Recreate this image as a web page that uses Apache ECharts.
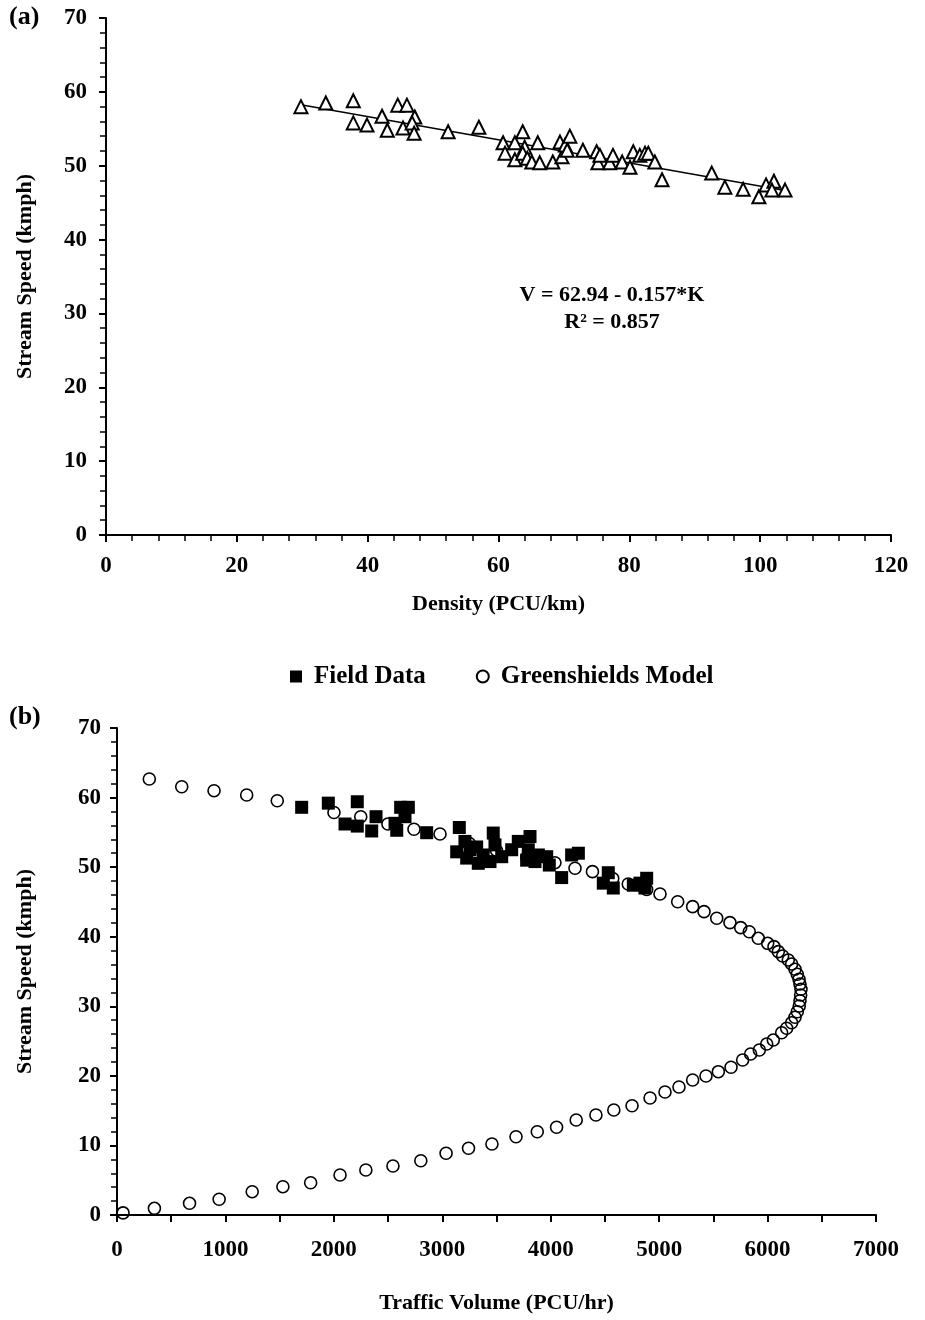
<!DOCTYPE html>
<html lang="en" style="height: 100%">
<head>
<meta charset="utf-8">
<title>Speed-Density and Speed-Flow</title>
</head>
<body style="height: 100%; margin: 0; background: #fff">
<div id="container" style="width: 925px; height: 1320px"></div>
<script type="text/javascript" src="https://cdn.jsdelivr.net/npm/echarts/dist/echarts.min.js"></script>
<script type="text/javascript">
// (a) field observations: density (PCU/km) and stream speed (kmph)
var densityK = [29.8, 33.6, 37.8, 37.8, 39.9, 42.2, 43.0, 44.6, 46.0, 45.4, 47.2, 46.8, 47.1, 52.3, 57.0,
  60.7, 61.0, 62.5, 62.5, 63.7, 64.0, 63.7, 64.4, 65.1, 66.0, 66.3, 68.3, 69.4, 69.7, 70.2, 70.5, 70.9,
  72.9, 75.0, 75.2, 75.5, 77.0, 77.5, 78.9, 80.1, 80.6, 81.6, 82.4, 82.9, 83.9, 85.0,
  92.6, 94.6, 97.4, 99.8, 100.9, 102.1, 101.8, 103.8];
var speedK = [58.0, 58.5, 58.8, 55.8, 55.5, 56.7, 54.8, 58.2, 58.2, 55.1, 56.6, 55.8, 54.4, 54.6, 55.2,
  53.1, 51.7, 53.1, 50.8, 54.6, 52.5, 51.7, 51.0, 50.5, 53.1, 50.4, 50.5, 53.2, 51.2, 52.8, 52.1, 54.0,
  52.1, 51.9, 50.4, 51.4, 50.4, 51.4, 50.5, 49.8, 51.9, 51.4, 51.7, 51.7, 50.5, 48.1,
  49.0, 47.1, 46.8, 45.8, 47.4, 47.9, 46.7, 46.7];

// regression shown on the chart
var fitIntercept = 62.94;
var fitSlope = -0.157;
var fitRange = [30, 104];
var fitText = ['V = 62.94 - 0.157*K', 'R\u00b2 = 0.857'];

// (b) field data: traffic volume (PCU/hr) and speed
var fieldQ = [1703, 1949, 2216, 2103, 2216, 2389, 2349, 2580, 2564, 2616, 2687, 2656, 2856, 3157,
  3133, 3209, 3225, 3317, 3332, 3256, 3378, 3470, 3486, 3440, 3548, 3640, 3701, 3809, 3793, 3778,
  3886, 3855, 3963, 3987, 4101, 4193, 4255, 4531, 4485, 4577, 4762, 4823, 4885, 4869];
var fieldV = [58.6, 59.2, 59.4, 56.2, 55.9, 57.25, 55.2, 55.3, 56.3, 58.6, 58.6, 57.25, 54.95, 55.7,
  52.2, 53.7, 51.3, 52.9, 50.55, 52.5, 51.75, 54.9, 53.2, 50.8, 51.5, 52.5, 53.7, 54.4, 52.5, 51.0,
  51.75, 50.8, 51.5, 50.3, 48.5, 51.75, 52.0, 49.2, 47.7, 47.0, 47.4, 47.7, 48.4, 47.0];

// (b) Greenshields model points
var modelQ = [298, 597, 895, 1196, 1478, 2001, 2248, 2499, 2739, 2979, 3250, 3500, 3780,
  4039, 4224, 4385, 4572, 4715, 4885, 5008, 5171, 5309, 5414, 5531, 5653, 5752, 5831, 5914, 6001,
  6059, 6099, 6139, 6191, 6222, 6253, 6274, 6290, 6299, 6308, 6305, 6299, 6292, 6274, 6253, 6222,
  6176, 6130, 6053, 5992, 5924, 5844, 5770, 5663, 5546, 5432, 5309, 5183, 5054, 4916, 4750, 4582,
  4417, 4235, 4054, 3876, 3680, 3458, 3242, 3035, 2802, 2545, 2295, 2057, 1786, 1530, 1247, 942,
  669, 345, 56];
var modelV = [62.67, 61.56, 60.99, 60.37, 59.55, 57.86, 57.25, 56.2, 55.44, 54.77, 53.4, 52.4, 51.4,
  50.64, 49.84, 49.35, 48.37, 47.58, 46.79, 46.14, 45.03, 44.32, 43.6, 42.65, 42.02, 41.3, 40.72, 39.77, 39.05,
  38.57, 37.85, 37.23, 36.65, 36.08, 35.32, 34.6, 33.88, 33.2, 32.44, 31.62, 30.8, 30.04, 29.22, 28.42, 27.64,
  26.84, 26.2, 25.15, 24.58, 23.72, 23.14, 22.28, 21.23, 20.6, 19.98, 19.4, 18.4, 17.68, 16.82, 15.71, 15.09,
  14.37, 13.66, 12.61, 11.97, 11.25, 10.21, 9.59, 8.87, 7.8, 7.04, 6.47, 5.75, 4.64, 4.07, 3.35, 2.26,
  1.68, 0.96, 0.3];

var FONT = '"Liberation Serif", "Times New Roman", serif';

function zip(a, b) {
  return a.map(function (v, i) { return [v, b[i]]; });
}

var fitData = fitRange.map(function (k) { return [k, fitIntercept + fitSlope * k]; });

var dom = document.getElementById('container');
var myChart = echarts.init(dom, null, { renderer: 'canvas' });

function label(margin) {
  return {
    color: '#000', fontFamily: FONT, fontWeight: 'bold', fontSize: 23, margin: margin,
    formatter: function (v) { return String(v); }
  };
}

function minor(split, len, width) {
  return { show: true, splitNumber: split, length: len, lineStyle: { color: '#000', width: width } };
}

function axisCommon(extra) {
  var base = {
    type: 'value',
    axisLine: { show: true, lineStyle: { color: '#000', width: 2 } },
    axisTick: { show: true, inside: false, length: 7, lineStyle: { color: '#000', width: 2 } },
    splitLine: { show: false },
    nameLocation: 'middle',
    nameTextStyle: { color: '#000', fontFamily: FONT, fontWeight: 'bold', fontSize: 22 }
  };
  return Object.assign(base, extra);
}

var option = {
  animation: false,
  backgroundColor: '#fff',
  grid: [
    { left: 106, top: 18, width: 785, height: 517 },
    { left: 117, top: 728, width: 759, height: 487 }
  ],
  legend: {
    data: ['Field Data', 'Greenshields Model'],
    left: 285,
    top: 659,
    itemGap: 50,
    itemWidth: 12,
    itemHeight: 12,
    textStyle: { color: '#000', fontFamily: FONT, fontWeight: 'bold', fontSize: 25, padding: [0, 0, 0, 7] }
  },
  xAxis: [
    axisCommon({ gridIndex: 0, min: 0, max: 120, interval: 20, minorTick: minor(5, 6, 1.5),
      axisLabel: label(20), name: 'Density (PCU/km)', nameGap: 58 }),
    axisCommon({ gridIndex: 1, min: 0, max: 7000, interval: 1000, minorTick: minor(2, 7, 2),
      axisLabel: label(24), name: 'Traffic Volume (PCU/hr)', nameGap: 77 })
  ],
  yAxis: [
    axisCommon({ gridIndex: 0, min: 0, max: 70, interval: 10, minorTick: minor(5, 6, 1.5),
      axisLabel: label(19), name: 'Stream Speed (kmph)', nameGap: 70 }),
    axisCommon({ gridIndex: 1, min: 0, max: 70, interval: 10, minorTick: minor(5, 6, 1.5),
      axisLabel: label(16), name: 'Stream Speed (kmph)', nameGap: 81 })
  ],
  series: [
    {
      name: 'Observed',
      type: 'scatter',
      xAxisIndex: 0,
      yAxisIndex: 0,
      symbol: 'triangle',
      symbolSize: 13,
      itemStyle: { color: '#fff', borderColor: '#000', borderWidth: 2, opacity: 1 },
      data: zip(densityK, speedK),
      z: 3
    },
    {
      name: 'Fit',
      type: 'line',
      xAxisIndex: 0,
      yAxisIndex: 0,
      symbol: 'none',
      lineStyle: { color: '#000', width: 1.5 },
      data: fitData,
      z: 2
    },
    {
      name: 'Greenshields Model',
      type: 'scatter',
      xAxisIndex: 1,
      yAxisIndex: 1,
      symbol: 'circle',
      symbolSize: 12,
      itemStyle: { color: 'rgba(255,255,255,0)', borderColor: '#000', borderWidth: 1.6, opacity: 1 },
      data: zip(modelQ, modelV),
      z: 2
    },
    {
      name: 'Field Data',
      type: 'scatter',
      xAxisIndex: 1,
      yAxisIndex: 1,
      symbol: 'rect',
      symbolSize: 13,
      itemStyle: { color: '#000', opacity: 1 },
      data: zip(fieldQ, fieldV),
      z: 3
    }
  ],
  graphic: [
    { type: 'text', left: 9, top: 4, style: { text: '(a)', font: 'bold 26px ' + FONT, fill: '#000' } },
    { type: 'text', left: 9, top: 704, style: { text: '(b)', font: 'bold 26px ' + FONT, fill: '#000' } },
    { type: 'text', x: 612, y: 295, style: { text: fitText[0], font: 'bold 22px ' + FONT, fill: '#000', textAlign: 'center', textVerticalAlign: 'middle' } },
    { type: 'text', x: 612, y: 322, style: { text: fitText[1], font: 'bold 22px ' + FONT, fill: '#000', textAlign: 'center', textVerticalAlign: 'middle' } }
  ]
};

myChart.setOption(option);
window.addEventListener('resize', myChart.resize);
</script>
</body>
</html>
